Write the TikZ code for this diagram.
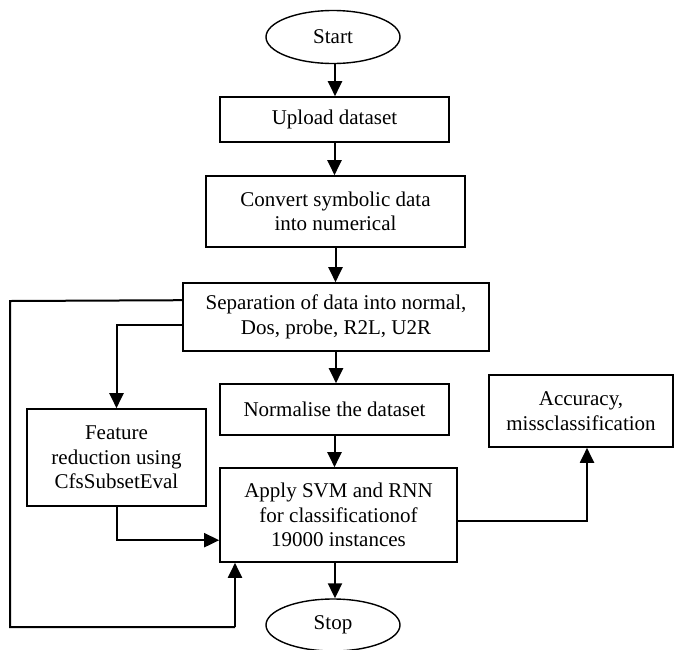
\documentclass[tikz,border=0pt]{standalone}
\usepackage{fontspec}
\setmainfont{Liberation Serif}
\usetikzlibrary{shapes.geometric,arrows.meta}
\begin{document}
\begin{tikzpicture}[x=1pt,y=-1pt,
  every node/.style={font=\fontsize{21}{24.5}\selectfont, align=center, inner sep=0pt},
  box/.style={draw, line width=1.6pt, rectangle},
  term/.style={draw, line width=1.4pt, ellipse},
  arr/.style={line width=2pt, -{Triangle[length=15pt,width=14pt]}},
  link/.style={line width=2pt}]
\useasboundingbox (0,0) rectangle (675,649);
% nodes
\node[term, minimum width=134pt, minimum height=53pt] (start) at (333,37) {Start};
\node[box, minimum width=229pt, minimum height=45pt] (upload) at (334.5,119.5) {Upload dataset};
\node[box, minimum width=259pt, minimum height=71pt] (convert) at (335.5,211.5) {Convert symbolic data\\into numerical};
\node[box, minimum width=306pt, minimum height=68pt] (sep) at (336,317) {Separation of data into normal,\\Dos, probe, R2L, U2R};
\node[box, minimum width=229pt, minimum height=51pt] (norm) at (334.5,409.5) {Normalise the dataset};
\node[box, minimum width=179pt, minimum height=97pt] (feat) at (116.5,457.5) {Feature\\reduction using\\CfsSubsetEval};
\node[box, minimum width=237pt, minimum height=94pt] (apply) at (338.5,515) {Apply SVM and RNN\\for classificationof\\19000 instances};
\node[box, minimum width=184pt, minimum height=72pt] (acc) at (581,411) {Accuracy,\\missclassification};
\node[term, minimum width=134pt, minimum height=52pt] (stop) at (333,625) {Stop};
% coordinates for routed connectors
\coordinate (c0) at ([yshift=-18pt]sep.north west);
\coordinate (c1) at (10,301);
\coordinate (c2) at (10,627);
\coordinate (c3) at (235,627);
\coordinate (cf) at ([yshift=-43pt]sep.north west);
\coordinate (ca) at ([yshift=-73pt]apply.north west);
\coordinate (ce) at ([yshift=-54pt]apply.north east);
\coordinate (cacc) at ([xshift=6pt]acc.south);
% main column
\draw[arr] ([xshift=2pt]start.south) -- ([xshift=2pt]start.south |- upload.north);
\draw[arr] (upload.south) -- (upload.south |- convert.north);
\draw[arr] (convert.south) -- (convert.south |- sep.north);
\draw[arr] (sep.south) -- (sep.south |- norm.north);
\draw[arr] (norm.south) -- (norm.south |- apply.north);
\draw[arr] ([xshift=-3.5pt]apply.south) -- ([xshift=-3.5pt]apply.south |- stop.north);
% side connectors
\draw[link] (c0) -- (c1) -- (c2) -- (c3);
\draw[arr] (c3) -- (c3 |- apply.south);
\draw[arr] (cf) -| (feat.north);
\draw[arr] (feat.south) |- (ca);
\draw[arr] (ce) -| (cacc);
\end{tikzpicture}
\end{document}
